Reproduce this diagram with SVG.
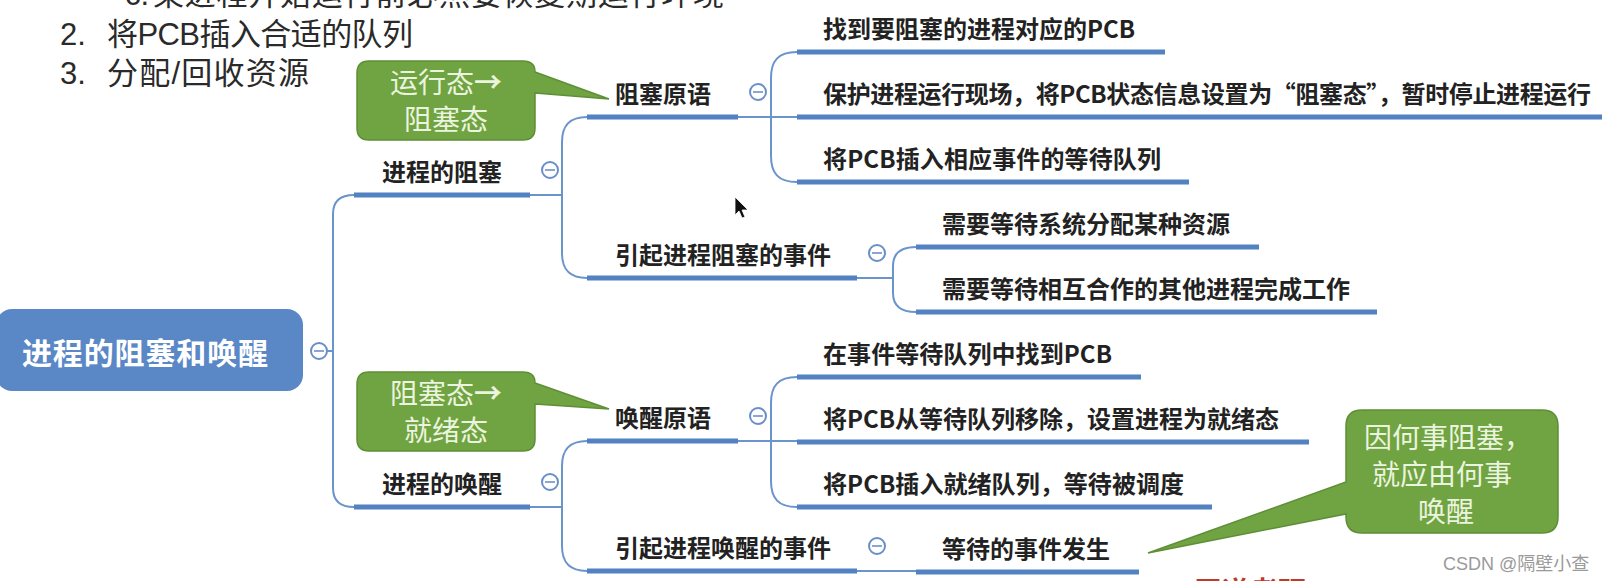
<svg xmlns="http://www.w3.org/2000/svg" width="1609" height="581" viewBox="0 0 1609 581">
<style>
.lbl{font-family:"Noto Sans CJK SC","Liberation Sans",sans-serif;font-size:24px;font-weight:700;fill:#222}
.root-t{font-family:"Noto Sans CJK SC","Liberation Sans",sans-serif;font-size:30px;font-weight:700;fill:#fff}
.ul{stroke:#5282c2;stroke-width:5;fill:none}
.ln{stroke:#6a94cc;stroke-width:2;fill:none}
.tg{fill:#fff;stroke:#6a8fc8;stroke-width:2}
.tm{stroke:#8ca6cf;stroke-width:2}
.call{fill:#70a341;stroke:#5e8f36;stroke-width:1.5}
.ct{font-family:"Noto Sans CJK SC",sans-serif;font-size:28px;fill:#ebf4df;text-anchor:middle}
.slide{font-family:"Liberation Sans","Noto Sans CJK SC",sans-serif;font-size:31px;fill:#2a2a2a}
</style>
<rect width="1609" height="581" fill="#fff"/>

<!-- slide text -->
<g id="slide-text">
<text class="slide" x="125" y="5">c.</text>
<text class="slide" x="153" y="5" textLength="571">某进程开始运行前必然要恢复期运行环境</text>
<text class="slide" x="60" y="45">2.</text>
<text class="slide" x="107" y="45" textLength="306">将PCB插入合适的队列</text>
<text class="slide" x="60" y="84">3.</text>
<text class="slide" x="107" y="84" textLength="202">分配/回收资源</text>
</g>

<!-- connectors -->
<g id="connectors">
<path class="ln" d="M327,351 H333"/>
<path class="ln" d="M354,195 C340,195 333,201 333,214 V488 C333,501 340,507 354,507"/>
<path class="ln" d="M530,195 H562"/>
<path class="ln" d="M587,117 C569,117 562,126 562,142 V253 C562,269 569,278 587,278"/>
<path class="ln" d="M530,507 H562"/>
<path class="ln" d="M587,441 C569,441 562,450 562,466 V546 C562,562 569,571 587,571"/>
<path class="ln" d="M738,117 H797"/>
<path class="ln" d="M797,52 C778,52 771,61 771,78 V156 C771,173 778,182 797,182"/>
<path class="ln" d="M738,441 H797"/>
<path class="ln" d="M797,377 C778,377 771,386 771,403 V481 C771,498 778,507 797,507"/>
<path class="ln" d="M857,278 H893"/>
<path class="ln" d="M916,247 C899,247 893,255 893,266 V293 C893,304 899,312 916,312"/>
<path class="ln" d="M857,571 H916"/>
</g>

<!-- root -->
<g id="root">
<rect x="-4" y="309" width="307" height="82" rx="16" fill="#5a87c6"/>
<text class="root-t" x="22" y="364" textLength="246">进程的阻塞和唤醒</text>
<circle class="tg" cx="319" cy="351" r="8"/><line class="tm" x1="314" y1="351" x2="324" y2="351"/>
</g>

<g id="block">
<text class="lbl" x="382" y="181">进程的阻塞</text>
<line class="ul" x1="354" y1="195" x2="530" y2="195"/>
<circle class="tg" cx="550" cy="170" r="8"/><line class="tm" x1="545" y1="170" x2="555" y2="170"/>
</g>

<g id="wakeup">
<text class="lbl" x="382" y="493">进程的唤醒</text>
<line class="ul" x1="354" y1="507" x2="530" y2="507"/>
<circle class="tg" cx="550" cy="482" r="8"/><line class="tm" x1="545" y1="482" x2="555" y2="482"/>
</g>

<g id="block-prim">
<text class="lbl" x="615" y="103">阻塞原语</text>
<line class="ul" x1="587" y1="117" x2="738" y2="117"/>
<circle class="tg" cx="758" cy="92" r="8"/><line class="tm" x1="753" y1="92" x2="763" y2="92"/>
</g>

<g id="block-event">
<text class="lbl" x="615" y="264">引起进程阻塞的事件</text>
<line class="ul" x1="587" y1="278" x2="857" y2="278"/>
<circle class="tg" cx="877" cy="253" r="8"/><line class="tm" x1="872" y1="253" x2="882" y2="253"/>
</g>

<g id="wake-prim">
<text class="lbl" x="615" y="427">唤醒原语</text>
<line class="ul" x1="587" y1="441" x2="738" y2="441"/>
<circle class="tg" cx="758" cy="416" r="8"/><line class="tm" x1="753" y1="416" x2="763" y2="416"/>
</g>

<g id="wake-event">
<text class="lbl" x="615" y="557">引起进程唤醒的事件</text>
<line class="ul" x1="587" y1="571" x2="857" y2="571"/>
<circle class="tg" cx="877" cy="546" r="8"/><line class="tm" x1="872" y1="546" x2="882" y2="546"/>
</g>

<g id="b1"><text class="lbl" x="823" y="38" textLength="312">找到要阻塞的进程对应的PCB</text><line class="ul" x1="797" y1="52" x2="1165" y2="52"/></g>
<g id="b2"><text class="lbl" x="823" y="103" textLength="768">保护进程运行现场，将PCB状态信息设置为“阻塞态”，暂时停止进程运行</text><line class="ul" x1="797" y1="117" x2="1602" y2="117"/></g>
<g id="b3"><text class="lbl" x="823" y="168" textLength="338">将PCB插入相应事件的等待队列</text><line class="ul" x1="797" y1="182" x2="1189" y2="182"/></g>
<g id="e1"><text class="lbl" x="942" y="233">需要等待系统分配某种资源</text><line class="ul" x1="916" y1="247" x2="1259" y2="247"/></g>
<g id="e2"><text class="lbl" x="942" y="298">需要等待相互合作的其他进程完成工作</text><line class="ul" x1="916" y1="312" x2="1377" y2="312"/></g>
<g id="w1"><text class="lbl" x="823" y="363" textLength="289">在事件等待队列中找到PCB</text><line class="ul" x1="797" y1="377" x2="1141" y2="377"/></g>
<g id="w2"><text class="lbl" x="823" y="428" textLength="456">将PCB从等待队列移除，设置进程为就绪态</text><line class="ul" x1="797" y1="442" x2="1309" y2="442"/></g>
<g id="w3"><text class="lbl" x="823" y="493" textLength="361">将PCB插入就绪队列，等待被调度</text><line class="ul" x1="797" y1="507" x2="1212" y2="507"/></g>
<g id="we1"><text class="lbl" x="942" y="558">等待的事件发生</text><line class="ul" x1="916" y1="572" x2="1139" y2="572"/></g>

<!-- callouts -->
<g id="callout-block">
<path class="call" d="M369,61 H523 Q535,61 535,72 L609,99 L535,93 V128 Q535,140 523,140 H369 Q357,140 357,128 V73 Q357,61 369,61 Z"/>
<text class="ct" x="446" y="93">运行态<tspan font-weight="700">→</tspan></text>
<text class="ct" x="446" y="130">阻塞态</text>
</g>
<g id="callout-wake">
<path class="call" d="M369,372 H523 Q535,372 535,383 L609,409 L535,404 V439 Q535,451 523,451 H369 Q357,451 357,439 V384 Q357,372 369,372 Z"/>
<text class="ct" x="446" y="404">阻塞态<tspan font-weight="700">→</tspan></text>
<text class="ct" x="446" y="441">就绪态</text>
</g>
<g id="callout-reason">
<path class="call" d="M1362,410 H1542 Q1558,410 1558,426 V517 Q1558,533 1542,533 H1362 Q1346,533 1346,517 V514 L1148,553 L1346,482 V426 Q1346,410 1362,410 Z"/>
<text class="ct" x="1448" y="448">因何事阻塞，</text>
<text class="ct" x="1442" y="485">就应由何事</text>
<text class="ct" x="1446" y="522">唤醒</text>
</g>

<!-- cursor -->
<polygon points="735,197 735,215 739,211 742,218 745,217 742,210 748,210" fill="#111" stroke="#fff" stroke-width="0.8"/>

<!-- watermark / footer -->
<text x="1443" y="570" style="font-family:'Liberation Sans','Noto Sans CJK SC',sans-serif;font-size:18px;fill:#9a9a9a">CSDN @隔壁小查</text>
<text x="1194" y="602" style="font-family:'Noto Sans CJK SC',sans-serif;font-size:28px;fill:#c0392b;font-weight:700">王道考研</text>
</svg>
